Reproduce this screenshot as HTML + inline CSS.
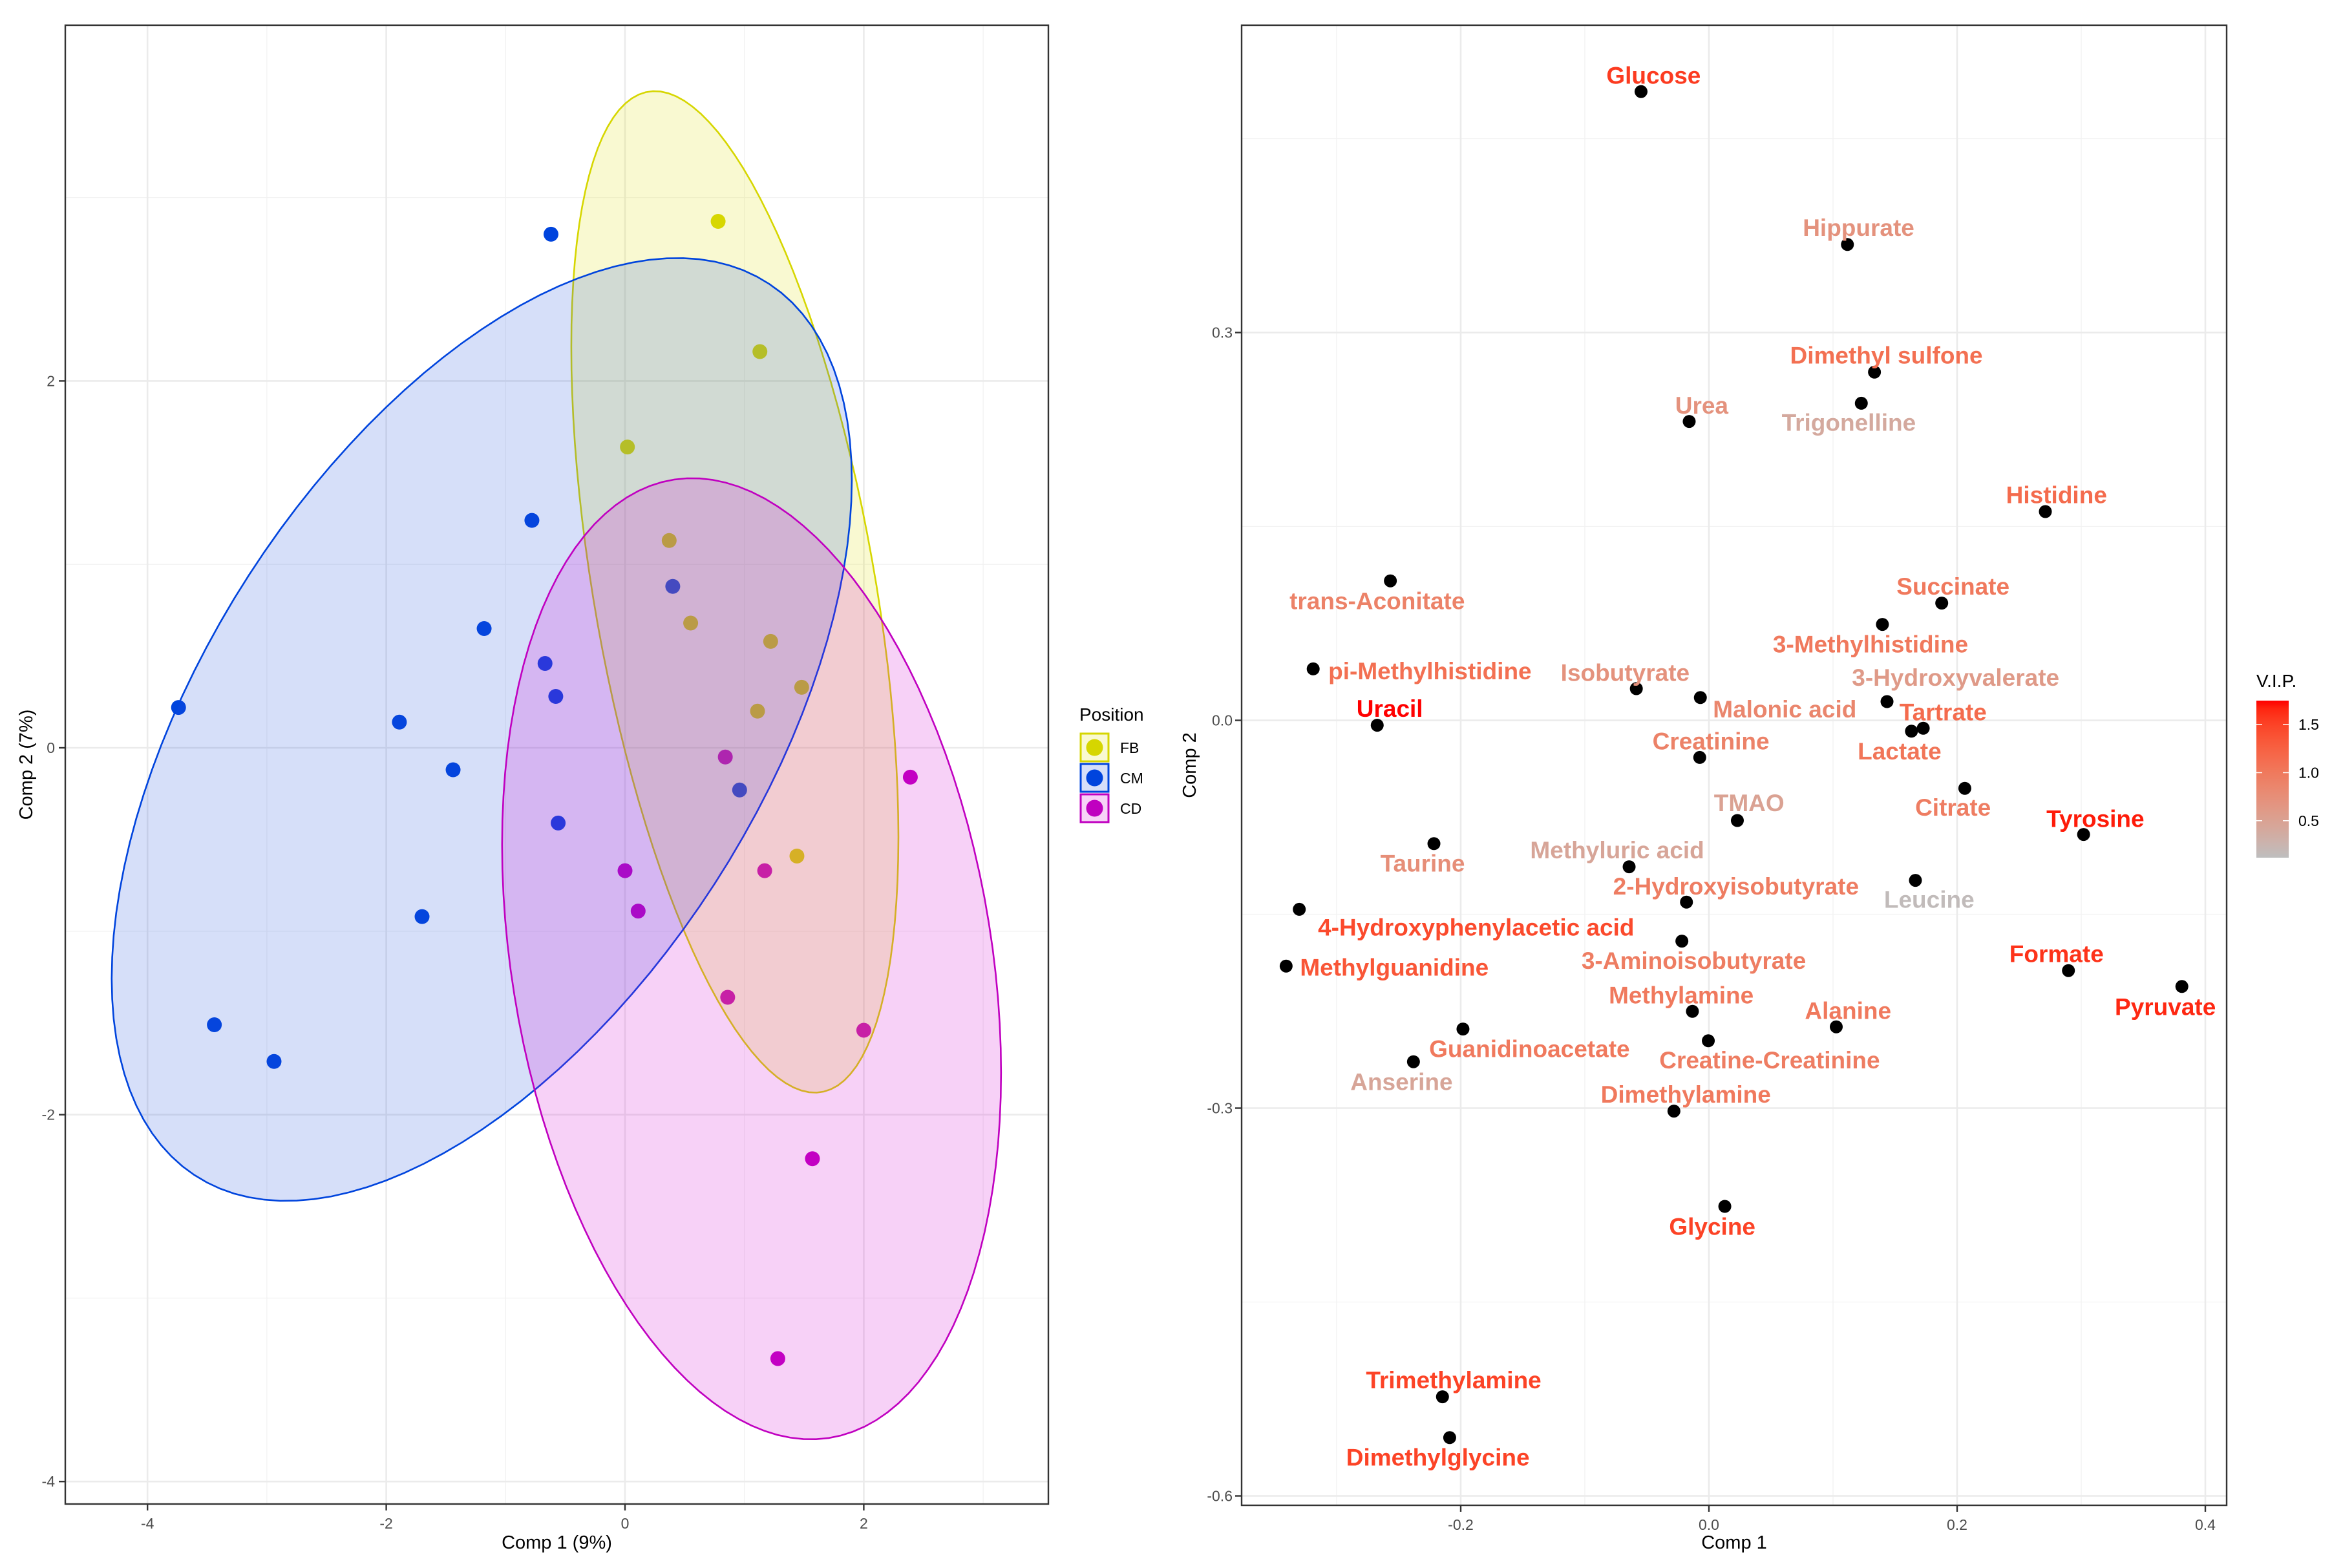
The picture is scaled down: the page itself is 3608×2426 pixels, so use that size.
<!DOCTYPE html>
<html><head><meta charset="utf-8"><style>
html,body{margin:0;padding:0;background:#fff;}
svg{display:block;font-family:"Liberation Sans",Arial,sans-serif;}
</style></head><body>
<svg id="chart" xmlns="http://www.w3.org/2000/svg" width="3608" height="2426" viewBox="0 0 3608 2426">
<rect width="3608" height="2426" fill="#fff"/>
<g id="left"></g>
<g id="right"></g>
</svg>
<script>
// ---------- Left panel data (scores) ----------
const fbX=[0.78,1.13,0.02,0.37,0.55,1.22,1.48,1.11,1.44];
const fbY=[2.87,2.16,1.64,1.13,0.68,0.58,0.33,0.20,-0.59];
const cmX=[-0.62,-3.74,-1.89,-1.44,-1.18,-0.78,-0.67,-0.58,-0.56,-1.70,-3.44,-2.94,0.40,0.96];
const cmY=[2.80,0.22,0.14,-0.12,0.65,1.24,0.46,0.28,-0.41,-0.92,-1.51,-1.71,0.88,-0.23];
const cdX=[0.84,2.39,0.00,0.11,1.17,0.86,2.00,1.57,1.28];
const cdY=[-0.05,-0.16,-0.67,-0.89,-0.67,-1.36,-1.54,-2.24,-3.33];
const groupNames=["FB","CM","CD"];
// ellipse: centre x, centre y, sd x, sd y, covariance xy (data units)
const ellCX=[0.92,-1.20,1.06];
const ellCY=[0.85,0.10,-1.15];
const ellSX=[1.37,3.10,2.09];
const ellSY=[2.73,2.57,2.62];
const ellSXY=[-1.83,4.21,-1.30];
const leftXTicks=[-4,-2,0,2];
const leftYTicks=[-4,-2,0,2];
const leftXMinor=[-3,-1,1,3];
const leftYMinor=[-3,-1,1,3];

// ---------- Right panel data (loadings) ----------
const metNames=["Glucose","Hippurate","Dimethyl sulfone","Trigonelline","Urea","Histidine","trans-Aconitate","Succinate","3-Methylhistidine","pi-Methylhistidine","Isobutyrate","Malonic acid","3-Hydroxyvalerate","Tartrate","Lactate","Uracil","Creatinine","Citrate","TMAO","Tyrosine","Taurine","Methyluric acid","Leucine","2-Hydroxyisobutyrate","4-Hydroxyphenylacetic acid","3-Aminoisobutyrate","Methylguanidine","Formate","Pyruvate","Methylamine","Alanine","Guanidinoacetate","Creatine-Creatinine","Anserine","Dimethylamine","Glycine","Trimethylamine","Dimethylglycine"];
const metX=[-0.0547,0.1116,0.1334,0.1228,-0.0159,0.2711,-0.2567,0.1876,0.1398,-0.3189,-0.0585,-0.0069,0.1435,0.1727,0.1632,-0.2673,-0.0074,0.2062,0.0229,0.3019,-0.2216,-0.0643,0.1664,-0.0181,-0.3301,-0.0218,-0.3407,0.2897,0.3811,-0.0133,0.1026,-0.1982,-0.0005,-0.2381,-0.0282,0.0128,-0.2147,-0.2089];
const metY=[0.4864,0.3681,0.2694,0.2453,0.2312,0.1615,0.1079,0.0907,0.0742,0.0398,0.0245,0.0176,0.0145,-0.0061,-0.0084,-0.0038,-0.0287,-0.0526,-0.0775,-0.0883,-0.0954,-0.1133,-0.1238,-0.1406,-0.1462,-0.1708,-0.1901,-0.1936,-0.2059,-0.2251,-0.2371,-0.2388,-0.2479,-0.2641,-0.3023,-0.3760,-0.5233,-0.5549];
const labX=[-0.0446,0.1206,0.1430,0.1127,-0.0058,0.2801,-0.2673,0.1967,0.1302,-0.2248,-0.0675,0.0611,0.1988,0.1887,0.1536,-0.2572,0.0016,0.1967,0.0324,0.3114,-0.2307,-0.0739,0.1775,0.0218,-0.1876,-0.0122,-0.2535,0.2801,0.3678,-0.0223,0.1121,-0.1446,0.0489,-0.2477,-0.0186,0.0027,-0.2057,-0.2184];
const labY=[0.4990,0.3812,0.2824,0.2304,0.2438,0.1745,0.0926,0.1037,0.0589,0.0383,0.0371,0.0088,0.0333,0.0065,-0.0237,0.0092,-0.0161,-0.0673,-0.0638,-0.0761,-0.1104,-0.1003,-0.1385,-0.1283,-0.1599,-0.1858,-0.1911,-0.1806,-0.2216,-0.2125,-0.2244,-0.2539,-0.2627,-0.2795,-0.2893,-0.3914,-0.5103,-0.5700];
const metVIP=[1.55,0.70,1.10,0.40,0.70,1.15,0.90,1.00,1.00,1.10,0.70,0.85,0.60,1.15,1.05,1.75,0.90,0.95,0.50,1.70,0.75,0.45,0.15,0.95,1.45,0.95,1.35,1.60,1.65,1.00,1.00,1.00,0.95,0.45,1.00,1.50,1.50,1.50];
const rightXTicks=[-0.2,0.0,0.2,0.4];
const rightYTicks=[-0.6,-0.3,0.0,0.3];
const rightXMinor=[-0.3,-0.1,0.1,0.3];
const rightYMinor=[-0.45,-0.15,0.15,0.45];
const vipTicks=[0.5,1.0,1.5];
const vipMin=0.115, vipMax=1.75;

const NS="http://www.w3.org/2000/svg";
function mk(tag,attrs,parent){const e=document.createElementNS(NS,tag);for(const k in attrs)e.setAttribute(k,attrs[k]);parent.appendChild(e);return e;}

// ---------- scales ----------
const L={x0:101,x1:1622,y0:39,y1:2327};
const lx=v=>967+v*184.7;
const ly=v=>1157-v*283.8;
const R={x0:1921,x1:3445,y0:39,y1:2329};
const rx=v=>2644+v*1920;
const ry=v=>1114.5-v*2000;

// ---------- colour (Lab interpolation grey->red) ----------
function toLin(c){c/=255;return c<=0.04045?c/12.92:Math.pow((c+0.055)/1.055,2.4);}
function fromLin(c){const v=c<=0.0031308?12.92*c:1.055*Math.pow(c,1/2.4)-0.055;return Math.max(0,Math.min(255,Math.round(v*255)));}
function rgb2lab(r,g,b){r=toLin(r);g=toLin(g);b=toLin(b);
 let X=(0.4124*r+0.3576*g+0.1805*b)/0.95047,Y=(0.2126*r+0.7152*g+0.0722*b),Z=(0.0193*r+0.1192*g+0.9505*b)/1.08883;
 const f=t=>t>0.008856?Math.cbrt(t):7.787*t+16/116;X=f(X);Y=f(Y);Z=f(Z);return [116*Y-16,500*(X-Y),200*(Y-Z)];}
function lab2rgb(l,a,bb){let Y=(l+16)/116,X=a/500+Y,Z=Y-bb/200;
 const fi=t=>t*t*t>0.008856?t*t*t:(t-16/116)/7.787;X=fi(X)*0.95047;Y=fi(Y);Z=fi(Z)*1.08883;
 const r=3.2406*X-1.5372*Y-0.4986*Z,g=-0.9689*X+1.8758*Y+0.0415*Z,b=0.0557*X-0.2040*Y+1.0570*Z;
 return `rgb(${fromLin(r)},${fromLin(g)},${fromLin(b)})`;}
const labLo=rgb2lab(190,190,190),labHi=rgb2lab(255,0,0);
function vipColor(v){let t=(v-vipMin)/(vipMax-vipMin);t=Math.max(0,Math.min(1,t));
 return lab2rgb(labLo[0]+t*(labHi[0]-labLo[0]),labLo[1]+t*(labHi[1]-labLo[1]),labLo[2]+t*(labHi[2]-labLo[2]));}

// ---------- LEFT PANEL ----------
const lg=document.getElementById('left');
const lbg=mk('rect',{x:L.x0,y:L.y0,width:L.x1-L.x0,height:L.y1-L.y0,fill:'#fff'},lg);


leftXMinor.forEach(v=>{const e=mk('line',{x1:lx(v),x2:lx(v),y1:L.y0,y2:L.y1,stroke:'#f2f2f2','stroke-width':1.3},lg);});
leftYMinor.forEach(v=>{const e=mk('line',{x1:L.x0,x2:L.x1,y1:ly(v),y2:ly(v),stroke:'#f2f2f2','stroke-width':1.3},lg);});
leftXTicks.forEach(v=>{const e=mk('line',{x1:lx(v),x2:lx(v),y1:L.y0,y2:L.y1,stroke:'#ebebeb','stroke-width':2.6},lg);});
leftYTicks.forEach(v=>{const e=mk('line',{x1:L.x0,x2:L.x1,y1:ly(v),y2:ly(v),stroke:'#ebebeb','stroke-width':2.6},lg);});

const gCol=['#d6d600','#0044dd','#c000c0'];
const gFill=['#dddd00','#1a4fe0','#d000d0'];
const gxs=[fbX,cmX,cdX], gys=[fbY,cmY,cdY];
gxs.forEach((xs,g)=>{xs.forEach((x,i)=>{
  const c=mk('circle',{cx:lx(x),cy:ly(gys[g][i]),r:11.5,fill:gCol[g]},lg);
  
  
});});
for(let g=0;g<3;g++){
  const sx=ellSX[g],sy=ellSY[g],sxy=ellSXY[g];
  const l21=sxy/sx,l22=Math.sqrt(Math.max(1e-6,sy*sy-l21*l21));
  let d='';
  for(let k=0;k<=120;k++){const t=k/120*2*Math.PI,c=Math.cos(t),s=Math.sin(t);
    const X=ellCX[g]+sx*c,Y=ellCY[g]+l21*c+l22*s;
    d+=(k?'L':'M')+lx(X).toFixed(1)+','+ly(Y).toFixed(1);}
  const p=mk('path',{d:d+'Z',fill:gFill[g],'fill-opacity':0.18,stroke:gCol[g],'stroke-width':2.6},lg);
  
  
}
const lborder=mk('rect',{x:L.x0,y:L.y0,width:L.x1-L.x0,height:L.y1-L.y0,fill:'none',stroke:'#333','stroke-width':2.4},lg);


leftXTicks.forEach(v=>{
  const t=mk('line',{x1:lx(v),x2:lx(v),y1:L.y1,y2:L.y1+10,stroke:'#333','stroke-width':2.4},lg);
  
  const tx=mk('text',{x:lx(v),y:L.y1+38,'font-size':23,fill:'#4d4d4d','text-anchor':'middle'},lg);tx.textContent=v;
  
});
leftYTicks.forEach(v=>{
  const t=mk('line',{x1:L.x0-10,x2:L.x0,y1:ly(v),y2:ly(v),stroke:'#333','stroke-width':2.4},lg);
  
  const tx=mk('text',{x:L.x0-16,y:ly(v)+8,'font-size':23,fill:'#4d4d4d','text-anchor':'end'},lg);tx.textContent=v;
  
});
{const t=mk('text',{x:(L.x0+L.x1)/2,y:2396,'font-size':29,fill:'#000','text-anchor':'middle'},lg);t.textContent='Comp 1 (9%)';
 
 const t2=mk('text',{x:0,y:0,'font-size':29,fill:'#000','text-anchor':'middle',transform:`translate(50,${(L.y0+L.y1)/2}) rotate(-90)`},lg);t2.textContent='Comp 2 (7%)';
 }
// legend
{const t=mk('text',{x:1670,y:1115,'font-size':28,fill:'#000'},lg);t.textContent='Position';
 
 const keyY=[1134,1181,1228];
 groupNames.forEach((n,g)=>{
   const gg=mk('g',{},lg);
   mk('rect',{x:1672,y:keyY[g]+1,width:43,height:43,fill:gFill[g],'fill-opacity':0.18,stroke:gCol[g],'stroke-width':3},gg);
   mk('circle',{cx:1693.5,cy:keyY[g]+22.5,r:13,fill:gCol[g]},gg);
   const tx=mk('text',{x:1733,y:keyY[g]+31,'font-size':23,fill:'#000'},gg);tx.textContent=n;
 });}

// ---------- RIGHT PANEL ----------
const rg=document.getElementById('right');
rightXMinor.forEach(v=>{const e=mk('line',{x1:rx(v),x2:rx(v),y1:R.y0,y2:R.y1,stroke:'#f2f2f2','stroke-width':1.3},rg);});
rightYMinor.forEach(v=>{const e=mk('line',{x1:R.x0,x2:R.x1,y1:ry(v),y2:ry(v),stroke:'#f2f2f2','stroke-width':1.3},rg);});
rightXTicks.forEach(v=>{const e=mk('line',{x1:rx(v),x2:rx(v),y1:R.y0,y2:R.y1,stroke:'#ebebeb','stroke-width':2.6},rg);});
rightYTicks.forEach(v=>{const e=mk('line',{x1:R.x0,x2:R.x1,y1:ry(v),y2:ry(v),stroke:'#ebebeb','stroke-width':2.6},rg);});
metNames.forEach((n,i)=>{
  const c=mk('circle',{cx:rx(metX[i]),cy:ry(metY[i]),r:10,fill:'#000'},rg);
  
  
});
metNames.forEach((n,i)=>{
  const t=mk('text',{x:rx(labX[i]),y:ry(labY[i])+13,'font-size':37,'font-weight':'bold',fill:vipColor(metVIP[i]),'text-anchor':'middle'},rg);
  t.textContent=n;
  
  
});
const rborder=mk('rect',{x:R.x0,y:R.y0,width:R.x1-R.x0,height:R.y1-R.y0,fill:'none',stroke:'#333','stroke-width':2.4},rg);


rightXTicks.forEach(v=>{
  const t=mk('line',{x1:rx(v),x2:rx(v),y1:R.y1,y2:R.y1+10,stroke:'#333','stroke-width':2.4},rg);
  
  const tx=mk('text',{x:rx(v),y:R.y1+38,'font-size':23,fill:'#4d4d4d','text-anchor':'middle'},rg);tx.textContent=v.toFixed(1);
  
});
rightYTicks.forEach(v=>{
  const t=mk('line',{x1:R.x0-10,x2:R.x0,y1:ry(v),y2:ry(v),stroke:'#333','stroke-width':2.4},rg);
  
  const tx=mk('text',{x:R.x0-14,y:ry(v)+8,'font-size':23,fill:'#4d4d4d','text-anchor':'end'},rg);tx.textContent=v.toFixed(1);
  
});
{const t=mk('text',{x:(R.x0+R.x1)/2,y:2396,'font-size':29,fill:'#000','text-anchor':'middle'},rg);t.textContent='Comp 1';
 
 const t2=mk('text',{x:0,y:0,'font-size':29,fill:'#000','text-anchor':'middle',transform:`translate(1850,${(R.y0+R.y1)/2}) rotate(-90)`},rg);t2.textContent='Comp 2';
 }
// colourbar
{const defs=mk('defs',{},rg);
 const lgd=mk('linearGradient',{id:'vipgrad',x1:0,y1:1,x2:0,y2:0},defs);
 for(let k=0;k<=20;k++){mk('stop',{offset:(k/20),'stop-color':vipColor(vipMin+(vipMax-vipMin)*k/20)},lgd);}
 const cb0=1084,cb1=1327;
 const vy=v=>cb1-(v-vipMin)/(vipMax-vipMin)*(cb1-cb0);
 const t=mk('text',{x:3491,y:1063,'font-size':28,fill:'#000'},rg);t.textContent='V.I.P.';
 
 const bar=mk('rect',{x:3491,y:cb0,width:50,height:cb1-cb0,fill:'url(#vipgrad)'},rg);
 
 vipTicks.forEach(v=>{
   mk('line',{x1:3491,x2:3500,y1:vy(v),y2:vy(v),stroke:'#fff','stroke-width':1.5},rg);
   mk('line',{x1:3532,x2:3541,y1:vy(v),y2:vy(v),stroke:'#fff','stroke-width':1.5},rg);
   const tx=mk('text',{x:3556,y:vy(v)+8,'font-size':23,fill:'#000'},rg);tx.textContent=v.toFixed(1);
   
 });}
</script>
</body></html>
